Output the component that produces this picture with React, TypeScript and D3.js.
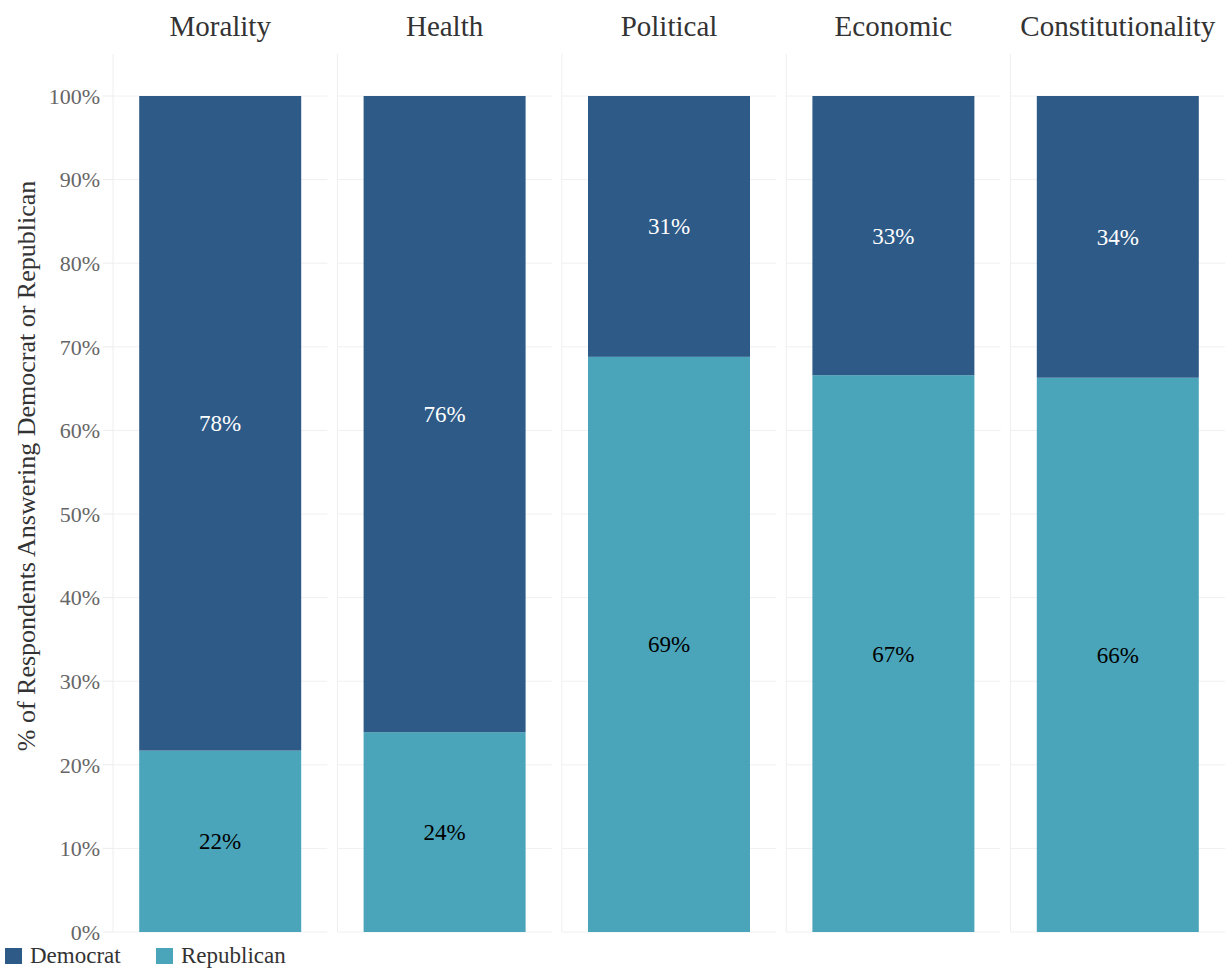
import React from "react";
import * as d3 from "d3";

const categories = ["Morality", "Health", "Political", "Economic", "Constitutionality"];
const republican = [0.217, 0.239, 0.688, 0.666, 0.663];
const democrat = [0.783, 0.761, 0.312, 0.334, 0.337];
const yTicks = [0, 0.1, 0.2, 0.3, 0.4, 0.5, 0.6, 0.7, 0.8, 0.9, 1.0];
const seriesNames = ["Democrat", "Republican"];
const seriesColors = ["#2E5A87", "#4AA5BA"];

const W = 1228;
const H = 969;
const FONT = "'Liberation Serif', 'Times New Roman', serif";

export default function App() {
  const x = d3.scaleBand<string>().domain(categories).range([113, 1225]).paddingInner(0.0446).paddingOuter(0);
  const y = d3.scaleLinear().domain([0, 1]).range([932, 96]);
  const barW = 162;
  const fmt = d3.format(".0%");
  const panelTop = 54;

  return (
    <svg width={W} height={H} style={{ position: "absolute", left: 0, top: 0, background: "#fff" }} fontFamily={FONT}>
      {/* y axis title */}
      <text
        transform={`translate(35, 466) rotate(-90)`}
        textAnchor="middle"
        fontSize={26}
        fill="#333"
      >
        % of Respondents Answering Democrat or Republican
      </text>
      {/* tick labels */}
      {yTicks.map((t) => (
        <g key={t}>
          <text x={100} y={y(t)} dy="0.35em" textAnchor="end" fontSize={22} fill="#666">
            {fmt(t)}
          </text>
          <line x1={103} x2={113} y1={y(t)} y2={y(t)} stroke="#ececec" strokeWidth={1} />
        </g>
      ))}
      {categories.map((c, i) => {
        const x0 = x(c)!;
        const bw = x.bandwidth();
        const cx = x0 + bw / 2;
        const rep = republican[i];
        const dem = democrat[i];
        return (
          <g key={c}>
            <text x={cx} y={36} textAnchor="middle" fontSize={29} fill="#333">
              {c}
            </text>
            {yTicks.map((t) => (
              <line key={t} x1={x0} x2={x0 + bw} y1={y(t)} y2={y(t)} stroke="#f0f0f0" strokeWidth={1} />
            ))}
            <line x1={x0} x2={x0} y1={panelTop} y2={y(0)} stroke="#eeeeee" strokeWidth={1} />
            <rect x={cx - barW / 2} y={y(rep)} width={barW} height={y(0) - y(rep)} fill={seriesColors[1]} />
            <rect x={cx - barW / 2} y={y(rep + dem)} width={barW} height={y(rep) - y(rep + dem)} fill={seriesColors[0]} />
            <text x={cx} y={(y(rep) + y(rep + dem)) / 2} dy="0.35em" textAnchor="middle" fontSize={23} fill="#ffffff">
              {fmt(dem)}
            </text>
            <text x={cx} y={(y(0) + y(rep)) / 2} dy="0.35em" textAnchor="middle" fontSize={23} fill="#000000">
              {fmt(rep)}
            </text>
          </g>
        );
      })}
      {/* legend */}
      {seriesNames.map((s, i) => {
        const lx = i === 0 ? 5 : 156;
        return (
          <g key={s}>
            <rect x={lx} y={948} width={17} height={16} fill={seriesColors[i]} />
            <text x={lx + 25} y={963} fontSize={23} fill="#333">
              {s}
            </text>
          </g>
        );
      })}
    </svg>
  );
}
